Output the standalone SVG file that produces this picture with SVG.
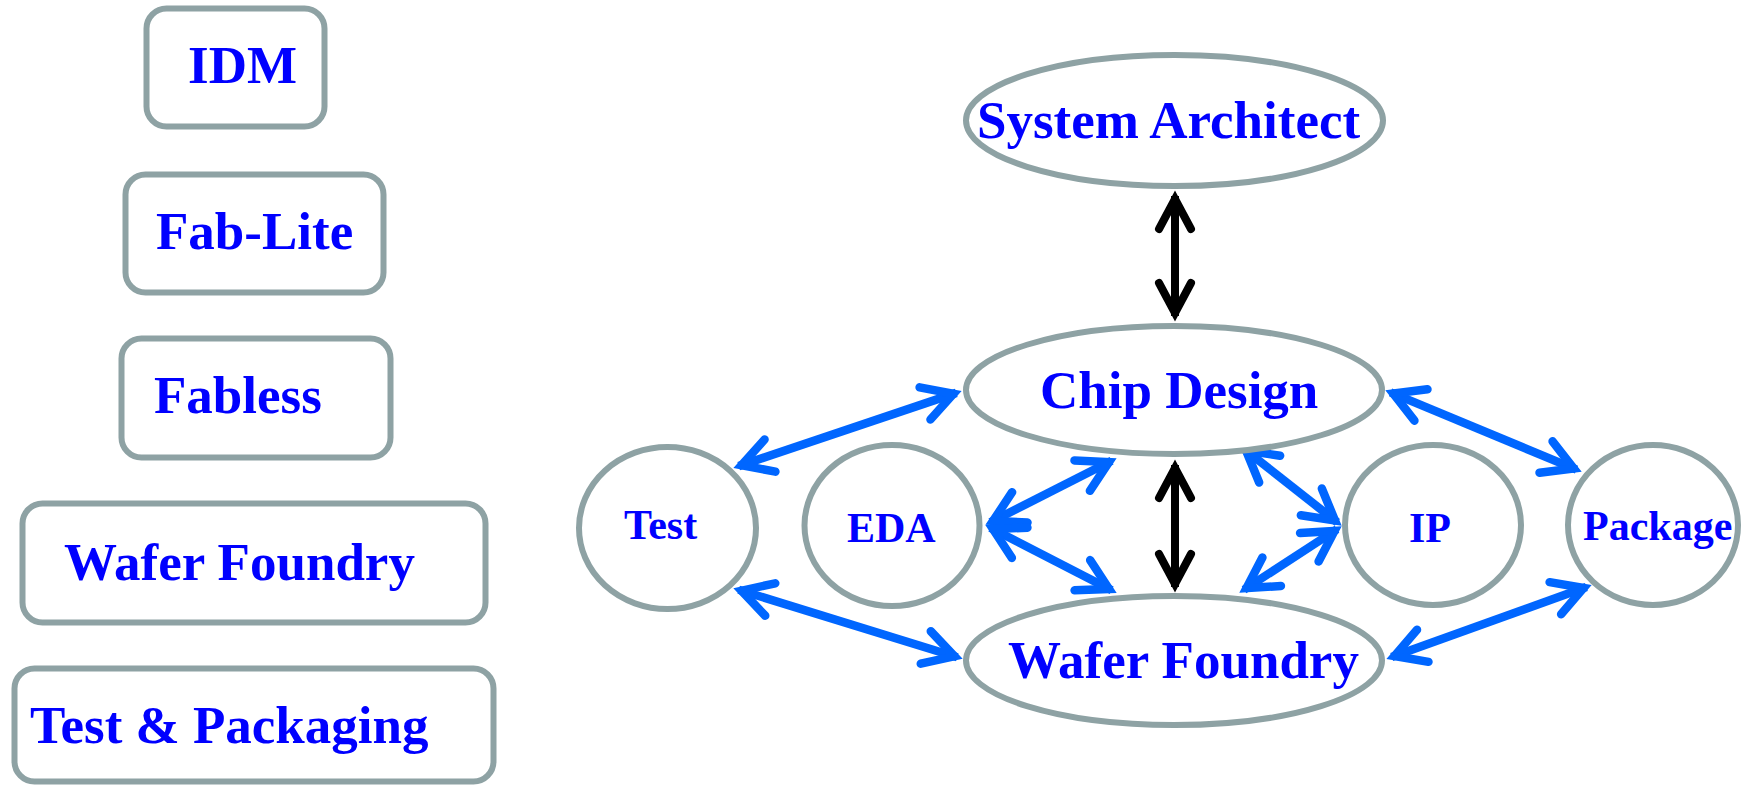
<svg xmlns="http://www.w3.org/2000/svg" width="1742" height="786" viewBox="0 0 1742 786">
<style>
.box{fill:#fff;stroke:#8ea2a4;stroke-width:6}
.lbl{font-family:"Liberation Serif","Times New Roman",serif;font-weight:bold;fill:#0000ff;font-size:53px}
.sm{font-size:42px}
.blue{stroke:#0066ff;stroke-width:8.5;fill:none;stroke-linecap:butt}
.black{stroke:#000;stroke-width:8;fill:none;stroke-linecap:butt}
</style>
<defs>
<marker id="hb" markerUnits="userSpaceOnUse" markerWidth="80" markerHeight="80" refX="0" refY="0" orient="auto-start-reverse" overflow="visible">
<path d="M -33 -17 L -3 0 L -33 17" fill="none" stroke="#0066ff" stroke-width="8.5" stroke-linecap="round" stroke-linejoin="miter" stroke-miterlimit="10"/>
</marker>
<marker id="hk" markerUnits="userSpaceOnUse" markerWidth="80" markerHeight="80" refX="0" refY="0" orient="auto-start-reverse" overflow="visible">
<path d="M -33 -16 L -3 0 L -33 16" fill="none" stroke="#000" stroke-width="8" stroke-linecap="round" stroke-linejoin="miter" stroke-miterlimit="10"/>
</marker>
</defs>
<rect width="1742" height="786" fill="#fff"/>
<g id="idm"><rect class="box" x="146.5" y="8.5" width="178" height="118" rx="20"/><text class="lbl" x="188" y="83">IDM</text></g>
<g id="fablite"><rect class="box" x="125.5" y="174.5" width="258" height="118" rx="20"/><text class="lbl" x="156" y="249">Fab-Lite</text></g>
<g id="fabless"><rect class="box" x="121.5" y="338.5" width="269" height="119" rx="20"/><text class="lbl" x="154" y="413">Fabless</text></g>
<g id="waferfoundry-box"><rect class="box" x="22.5" y="503.5" width="463" height="119" rx="20"/><text class="lbl" x="64" y="580">Wafer Foundry</text></g>
<g id="testpack-box"><rect class="box" x="14.5" y="668.5" width="479" height="113" rx="20"/><text class="lbl" x="30" y="743">Test &amp; Packaging</text></g>
<g id="connectors">
<line class="black" x1="1175" y1="196" x2="1175" y2="316" marker-start="url(#hk)" marker-end="url(#hk)"/>
<line class="black" x1="1175" y1="465" x2="1175" y2="587" marker-start="url(#hk)" marker-end="url(#hk)"/>
<line class="blue" x1="738.7" y1="466.1" x2="956.3" y2="392.9" marker-start="url(#hb)" marker-end="url(#hb)"/>
<line class="blue" x1="738.7" y1="589.8" x2="957.3" y2="657.2" marker-start="url(#hb)" marker-end="url(#hb)"/>
<line class="blue" x1="990.4" y1="522.3" x2="1111.6" y2="460.7" marker-start="url(#hb)" marker-end="url(#hb)"/>
<line class="blue" x1="990.3" y1="527.7" x2="1111.7" y2="590.3" marker-start="url(#hb)" marker-end="url(#hb)"/>
<line class="blue" x1="1337.3" y1="522.3" x2="1243.7" y2="448.7" marker-start="url(#hb)" marker-end="url(#hb)"/>
<line class="blue" x1="1337" y1="529.3" x2="1244" y2="589.7" marker-start="url(#hb)" marker-end="url(#hb)"/>
<line class="blue" x1="1390.5" y1="392.3" x2="1576.5" y2="469.7" marker-start="url(#hb)" marker-end="url(#hb)"/>
<line class="blue" x1="1391.7" y1="657" x2="1586.4" y2="587" marker-start="url(#hb)" marker-end="url(#hb)"/>
</g>
<g id="sysarch"><ellipse class="box" cx="1174.5" cy="120.5" rx="208.5" ry="65.5"/><text class="lbl" x="977" y="138">System Architect</text></g>
<g id="chipdesign"><ellipse class="box" cx="1174" cy="390" rx="208" ry="64"/><text class="lbl" x="1040" y="408">Chip Design</text></g>
<g id="waferfoundry"><ellipse class="box" cx="1174" cy="660.5" rx="208" ry="64.5"/><text class="lbl" x="1008" y="678">Wafer Foundry</text></g>
<g id="test"><ellipse class="box" cx="667.5" cy="528" rx="88.5" ry="81"/><text class="lbl sm" x="624" y="539">Test</text></g>
<g id="eda"><ellipse class="box" cx="892" cy="525.5" rx="87.5" ry="80.5"/><text class="lbl sm" x="847" y="542">EDA</text></g>
<g id="ip"><ellipse class="box" cx="1433" cy="525" rx="88" ry="80"/><text class="lbl sm" x="1409" y="542">IP</text></g>
<g id="package"><ellipse class="box" cx="1653" cy="525" rx="85" ry="80"/><text class="lbl sm" x="1583" y="540">Package</text></g>
</svg>
